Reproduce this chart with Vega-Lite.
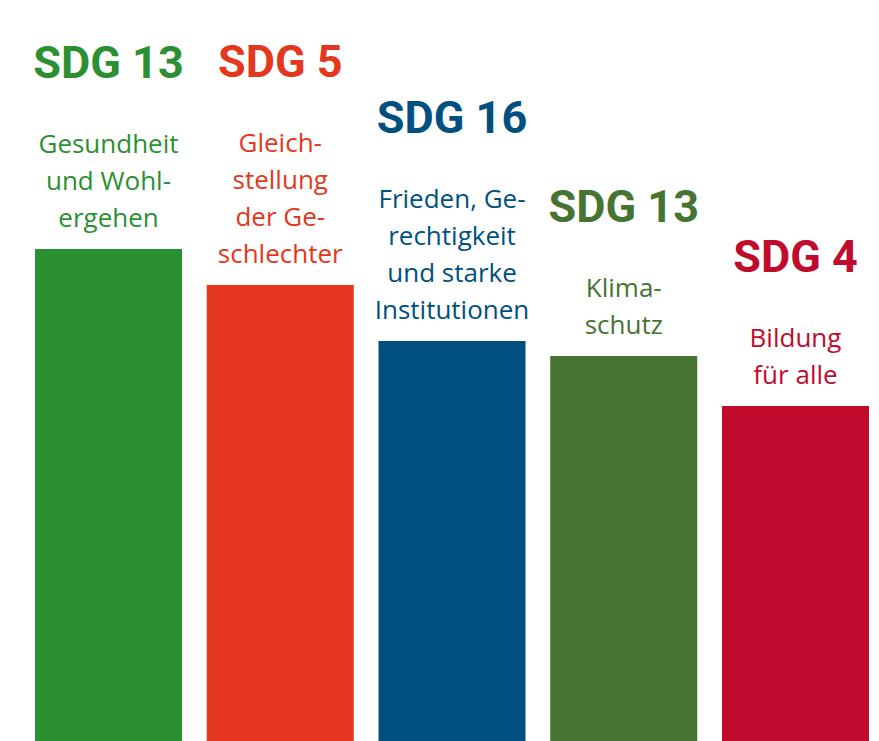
{
  "$schema": "https://vega.github.io/schema/vega-lite/v6.json",
  "width": 834,
  "height": 741,
  "autosize": "none",
  "padding": {"left": 35, "right": 10, "top": 0, "bottom": 0},
  "config": {"view": {"stroke": null}},
  "data": {
    "values": [
      {"rank": 1, "goal": "SDG 13", "desc": "Gesundheit\nund Wohl-\nergehen", "value": 49.2},
      {"rank": 2, "goal": "SDG 5", "desc": "Gleich-\nstellung\nder Ge-\nschlechter", "value": 45.6},
      {"rank": 3, "goal": "SDG 16", "desc": "Frieden, Ge-\nrechtigkeit\nund starke\nInstitutionen", "value": 40.0},
      {"rank": 4, "goal": "SDG 13", "desc": "Klima-\nschutz", "value": 38.5},
      {"rank": 5, "goal": "SDG 4", "desc": "Bildung\nfür alle", "value": 33.5}
    ]
  },
  "transform": [
    {"calculate": "length(split(datum.desc, '\\n'))", "as": "nlines"},
    {"calculate": "datum.value + (22 + (datum.nlines - 1) * 37) / 10", "as": "descPos"},
    {"calculate": "datum.descPos + 7.5", "as": "titlePos"}
  ],
  "encoding": {
    "x": {
      "field": "rank",
      "type": "ordinal",
      "axis": null,
      "scale": {"paddingInner": 0.144, "paddingOuter": 0}
    },
    "color": {
      "field": "rank",
      "type": "ordinal",
      "legend": null,
      "scale": {"range": ["#2a9032", "#e53620", "#00507f", "#477431", "#c00b2d"]}
    }
  },
  "layer": [
    {
      "mark": {"type": "bar", "cornerRadius": 0},
      "encoding": {
        "y": {"field": "value", "type": "quantitative", "axis": null, "scale": {"domain": [0, 74.1]}}
      }
    },
    {
      "mark": {
        "type": "text",
        "baseline": "alphabetic",
        "align": "center",
        "font": "Open Sans",
        "fontSize": 26,
        "lineBreak": "\n",
        "lineHeight": 37
      },
      "encoding": {
        "y": {"field": "descPos", "type": "quantitative", "scale": {"domain": [0, 74.1]}},
        "text": {"field": "desc", "type": "nominal"}
      }
    },
    {
      "mark": {
        "type": "text",
        "baseline": "alphabetic",
        "align": "center",
        "font": "Roboto",
        "fontWeight": "bold",
        "fontSize": 45
      },
      "encoding": {
        "y": {"field": "titlePos", "type": "quantitative", "scale": {"domain": [0, 74.1]}},
        "text": {"field": "goal", "type": "nominal"}
      }
    }
  ]
}
